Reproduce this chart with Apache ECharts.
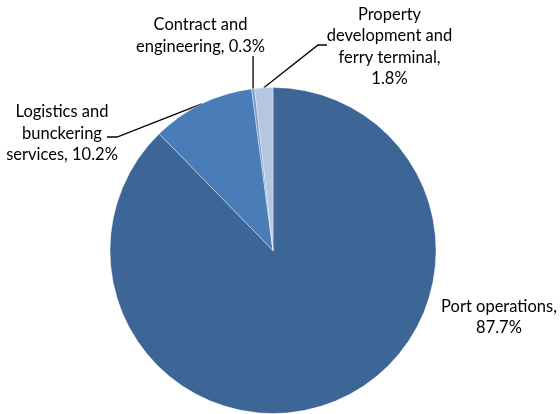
<!DOCTYPE html>
<html>
<head>
<meta charset="utf-8">
<script src="https://cdn.jsdelivr.net/npm/echarts@6/dist/echarts.min.js"></script>
<style>
  html, body { margin: 0; padding: 0; background: #fff; }
  #chart { width: 560px; height: 414px; }
</style>
</head>
<body>
<div id="chart"></div>
<script>
// Revenue share by business segment (%)
const segments = [
  'Port operations',
  'Logistics and bunckering services',
  'Contract and engineering',
  'Property development and ferry terminal'
];
const shares = [87.7, 10.2, 0.3, 1.8];
const labelTexts = [
  'Port operations,\n87.7%',
  'Logistics and\nbunckering\nservices, 10.2%',
  'Contract and\nengineering, 0.3%',
  'Property\ndevelopment and\nferry terminal,\n1.8%'
];
const sliceColors = ['#3d6596', '#4a7cb8', '#7b9dcc', '#b6c6e1'];

const CX = 273, CY = 250.5, R = 163;

// Where each label block sits (centre x, centre y) and how its leader bends
const labelPlacement = [
  { x: 499, y: 317, line: null },
  { x: 62, y: 133.5, line: [[117, 137], [107, 137]] },
  { x: 200.5, y: 35.5, line: [null, [null, 56]] },
  { x: 389.5, y: 46.5, line: [[318, 45], [327, 45]] }
];

// point on the rim at the middle of a slice
function rimPoint(i) {
  const total = shares.reduce((a, b) => a + b, 0);
  let before = 0;
  for (let k = 0; k < i; k++) before += shares[k];
  const frac = (before + shares[i] / 2) / total;
  const a = frac * 2 * Math.PI;
  return [CX + R * Math.sin(a), CY - R * Math.cos(a)];
}

const chart = echarts.init(document.getElementById('chart'), null, { renderer: 'canvas' });

chart.setOption({
  animation: false,
  backgroundColor: '#ffffff',
  series: [{
    type: 'pie',
    center: [CX, CY],
    radius: R,
    startAngle: 90,
    clockwise: true,
    avoidLabelOverlap: false,
    itemStyle: { borderColor: 'rgba(255,255,255,0.6)', borderWidth: 0.6 },
    label: {
      show: true,
      position: 'outside',
      color: '#000',
      fontFamily: 'Lato',
      fontSize: 16.5,
      lineHeight: 21.5,
      align: 'center',
      formatter: p => labelTexts[p.dataIndex]
    },
    labelLine: {
      show: true,
      lineStyle: { color: '#000', width: 1.3 }
    },
    labelLayout: function (params) {
      const i = params.dataIndex;
      const pl = labelPlacement[i];
      const out = { x: pl.x, y: pl.y, align: 'center', verticalAlign: 'middle' };
      if (pl.line) {
        const p0 = rimPoint(i);
        const pts = [p0];
        pl.line.forEach(pt => {
          if (pt) pts.push([pt[0] == null ? p0[0] : pt[0], pt[1]]);
        });
        out.labelLinePoints = pts;
      }
      return out;
    },
    data: segments.map((name, i) => ({
      name: name,
      value: shares[i],
      itemStyle: { color: sliceColors[i] },
      labelLine: { show: i !== 0 }
    }))
  }]
});
</script>
</body>
</html>
